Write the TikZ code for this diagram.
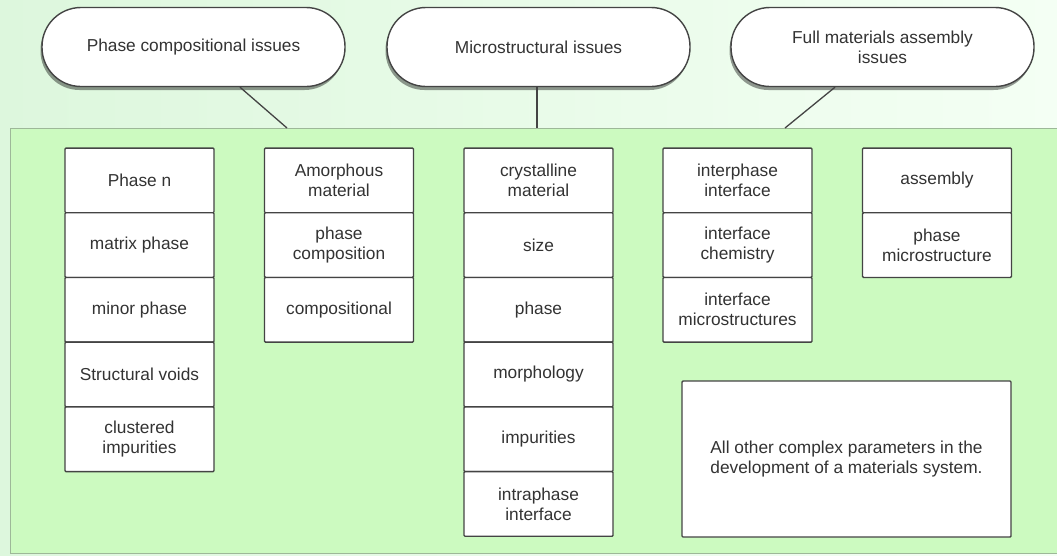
\documentclass[tikz,border=0pt]{standalone}
\usepackage{fontspec}
\setmainfont{Liberation Sans}
\usetikzlibrary{shadows,calc}
\definecolor{bgL}{HTML}{DDF7DD}
\definecolor{bgR}{HTML}{F4FFF4}
\definecolor{panelfill}{HTML}{CCFAC0}
\definecolor{paneledge}{HTML}{9DB898}
\definecolor{ink}{HTML}{333333}
\definecolor{edge}{HTML}{444444}
\tikzset{
  callout/.style={draw=edge, line width=1.4pt, fill=white, rounded corners=39pt,
    minimum width=303pt, minimum height=79pt, inner sep=0pt, align=center,
    text=ink, font=\fontsize{17.3}{20}\selectfont,
    drop shadow={shadow xshift=-1.5pt, shadow yshift=-3.5pt, opacity=0.4, fill=black}},
  cell/.style={draw=edge, line width=1.4pt, fill=white, rounded corners=1pt,
    minimum width=149pt, minimum height=64.7pt, inner sep=0pt, align=center,
    text=ink, font=\fontsize{17.3}{20}\selectfont},
  bigcell/.style={cell, minimum width=329pt, minimum height=156pt},
  link/.style={draw=edge, line width=1.3pt},
}
\begin{document}
\begin{tikzpicture}[x=1pt,y=-1pt]
\useasboundingbox (0,0) rectangle (1057,555);
\shade[left color=bgL, right color=bgR] (0,0) rectangle (1057,555);
\node[draw=paneledge, line width=1pt, fill=panelfill, anchor=north west, inner sep=0pt,
  minimum width=1050pt, minimum height=425pt] (panel) at (10,128) {};

\node[callout] (c1) at (193.5,47) {Phase compositional issues};
\node[callout] (c2) at (538.5,47) {Microstructural issues};
\node[callout] (c3) at (882.5,47) {Full materials assembly\\issues};

\coordinate (t1) at (287,128);
\coordinate (t2) at (537,128);
\coordinate (t3) at (785,128);
\draw[link] ($(c1.south)+(46.5,0)$) -- (t1);
\draw[link] ($(c2.south)+(-1.5,0)$) -- (t2);
\draw[link] ($(c3.south)+(-47.5,0)$) -- (t3);

% column 1
\node[cell] (a1) at (139.5,180.4) {Phase n};
\node[cell] (a2) at (139.5,245.1) {matrix phase};
\node[cell] (a3) at (139.5,309.8) {minor phase};
\node[cell] (a4) at (139.5,374.5) {Structural voids};
\node[cell] (a5) at (139.5,439.2) {clustered\\impurities};
% column 2
\node[cell] (b1) at (339,180.4) {Amorphous\\material};
\node[cell] (b2) at (339,245.1) {phase\\composition};
\node[cell] (b3) at (339,309.8) {compositional};
% column 3
\node[cell] (m1) at (538.5,180.4) {crystalline\\material};
\node[cell] (m2) at (538.5,245.1) {size};
\node[cell] (m3) at (538.5,309.8) {phase};
\node[cell] (m4) at (538.5,374.5) {morphology};
\node[cell] (m5) at (538.5,439.2) {impurities};
\node[cell] (m6) at (538.5,503.9) {intraphase\\interface};
% column 4
\node[cell] (i1) at (737.5,180.4) {interphase\\interface};
\node[cell] (i2) at (737.5,245.1) {interface\\chemistry};
\node[cell] (i3) at (737.5,309.8) {interface\\microstructures};
% column 5
\node[cell] (s1) at (937,180.4) {assembly};
\node[cell] (s2) at (937,245.1) {phase\\microstructure};
% big box
\node[bigcell] (all) at (846.5,459) {All other complex parameters in the\\development of a materials system.};
\end{tikzpicture}
\end{document}
